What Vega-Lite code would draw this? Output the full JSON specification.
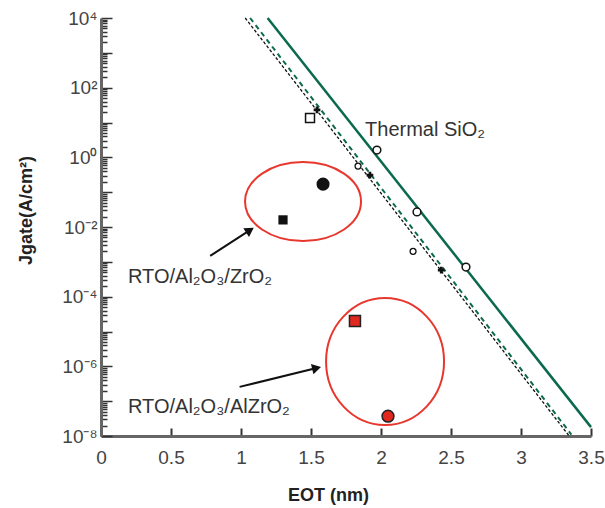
{
  "$schema": "https://vega.github.io/schema/vega-lite/v6.json",
  "autosize": {"type": "none"},
  "padding": {"left": 101, "top": 18, "right": 14, "bottom": 72},
  "width": 490,
  "height": 418,
  "background": "white",
  "config": {"view": {"stroke": null}, "font": "Liberation Sans"},
  "datasets": {
    "lines": [
      {"s": "solid", "eot": 1.19, "j": 10000},
      {"s": "solid", "eot": 3.5, "j": 1.8e-8},
      {"s": "bdash", "eot": 1.03, "j": 10000},
      {"s": "bdash", "eot": 3.34, "j": 1.05e-8},
      {"s": "gdash", "eot": 1.065, "j": 10000},
      {"s": "gdash", "eot": 3.36, "j": 1.1e-8}
    ],
    "points": [
      {"k": "thermal", "eot": 1.971, "j": 1.62},
      {"k": "thermal", "eot": 2.257, "j": 0.027},
      {"k": "thermal", "eot": 2.607, "j": 0.00071},
      {"k": "dopen", "eot": 1.836, "j": 0.56},
      {"k": "dopen", "eot": 2.229, "j": 0.002},
      {"k": "dfill", "eot": 1.921, "j": 0.31},
      {"k": "dfill", "eot": 2.43, "j": 0.00058},
      {"k": "dfill", "eot": 1.543, "j": 23},
      {"k": "dsq", "eot": 1.493, "j": 13.5},
      {"k": "bcircle", "eot": 1.586, "j": 0.17},
      {"k": "bsquare", "eot": 1.3, "j": 0.016},
      {"k": "rsquare", "eot": 1.814, "j": 2e-5},
      {"k": "rcircle", "eot": 2.05, "j": 3.7e-8}
    ],
    "ellipses": [
      {"e": "e1", "eot": 1.443, "j": 0.0537},
      {"e": "e2", "eot": 2.029, "j": 1.38e-6}
    ],
    "arrows": [
      {"a": "a1", "eot": 1.064, "j": 0.0081, "eot0": 0.78, "j0": 0.00148},
      {"a": "a2", "eot": 1.54, "j": 8.9e-7, "eot0": 0.99, "j0": 2.57e-7}
    ],
    "labels": [
      {"t": "Thermal SiO₂", "eot": 1.886, "j": 4.1},
      {"t": "RTO/Al₂O₃/ZrO₂", "eot": 0.193, "j": 0.000245},
      {"t": "RTO/Al₂O₃/AlZrO₂", "eot": 0.193, "j": 4.6e-8}
    ]
  },
  "encoding": {
    "x": {
      "field": "eot", "type": "quantitative",
      "scale": {"domain": [0, 3.5], "nice": false, "zero": false},
      "axis": {
        "values": [0, 0.5, 1, 1.5, 2, 2.5, 3, 3.5],
        "format": "~g",
        "grid": false,
        "labelFlush": false,
        "labelOverlap": false,
        "ticks": true,
        "tickSize": {"condition": {"test": "datum.value > 0", "value": -8}, "value": -8},
        "tickWidth": 2,
        "tickColor": "#333",
        "domainColor": "#666",
        "domainWidth": 3,
        "labelPadding": 20,
        "labelFontSize": 19,
        "labelColor": "#444",
        "labelFont": "Liberation Sans",
        "title": "EOT (nm)",
        "titleFont": "Liberation Sans",
        "titleFontSize": 18,
        "titleFontWeight": "bold",
        "titleColor": "#222",
        "titleX": 227,
        "titleY": 64,
        "titleBaseline": "alphabetic"
      }
    },
    "y": {
      "field": "j", "type": "quantitative",
      "scale": {"type": "log", "domain": [1e-8, 10000], "nice": false},
      "axis": {
        "values": [1e-8,2e-8,3e-8,4e-8,5e-8,6e-8,7e-8,8e-8,9e-8,1e-7,2e-7,3e-7,4e-7,5e-7,6e-7,7e-7,8e-7,9e-7,1e-6,2e-6,3e-6,4e-6,5e-6,6e-6,7e-6,8e-6,9e-6,1e-5,2e-5,3e-5,4e-5,5e-5,6e-5,7e-5,8e-5,9e-5,1e-4,2e-4,3e-4,4e-4,5e-4,6e-4,7e-4,8e-4,9e-4,1e-3,2e-3,3e-3,4e-3,5e-3,6e-3,7e-3,8e-3,9e-3,1e-2,2e-2,3e-2,4e-2,5e-2,6e-2,7e-2,8e-2,9e-2,0.1,0.2,0.3,0.4,0.5,0.6,0.7,0.8,0.9,1,2,3,4,5,6,7,8,9,10,20,30,40,50,60,70,80,90,100,200,300,400,500,600,700,800,900,1000,2000,3000,4000,5000,6000,7000,8000,9000,10000],
        "labelExpr": "abs(log(datum.value)/LN10 - round(log(datum.value)/LN10)) > 0.001 ? '' : round(log(datum.value)/LN10) == 4 ? '10⁴' : round(log(datum.value)/LN10) == 2 ? '10²' : round(log(datum.value)/LN10) == 0 ? '10⁰' : round(log(datum.value)/LN10) == -2 ? '10⁻²' : round(log(datum.value)/LN10) == -4 ? '10⁻⁴' : round(log(datum.value)/LN10) == -6 ? '10⁻⁶' : round(log(datum.value)/LN10) == -8 ? '10⁻⁸' : ''",
        "grid": false,
        "labelFlush": false,
        "labelOverlap": false,
        "ticks": true,
        "tickSize": {"condition": {"test": "abs(log(datum.value)/LN10 - round(log(datum.value)/LN10)) < 0.001", "value": -11}, "value": -6},
        "tickWidth": 1.5,
        "tickColor": "#333",
        "domainColor": "#666",
        "domainWidth": 3,
        "labelPadding": 15,
        "labelFontSize": 19,
        "labelColor": "#444",
        "labelFont": "Liberation Sans",
        "title": "Jgate(A/cm²)",
        "titleFont": "Liberation Sans",
        "titleFontSize": 18,
        "titleFontWeight": "bold",
        "titleColor": "#222",
        "titleX": -70,
        "titleY": 192,
        "titleAngle": -90,
        "titleBaseline": "alphabetic",
        "titleAlign": "center"
      }
    }
  },
  "layer": [
    {
      "data": {"name": "lines"},
      "transform": [{"filter": "datum.s == 'solid'"}],
      "mark": {"type": "line", "color": "#0b6a4e", "strokeWidth": 2.5},
      "encoding": {}
    },
    {
      "data": {"name": "lines"},
      "transform": [{"filter": "datum.s == 'gdash'"}],
      "mark": {"type": "line", "color": "#0b6a4e", "strokeWidth": 2, "strokeDash": [5, 4]},
      "encoding": {}
    },
    {
      "data": {"name": "lines"},
      "transform": [{"filter": "datum.s == 'bdash'"}],
      "mark": {"type": "line", "color": "#111", "strokeWidth": 1.3, "strokeDash": [3, 2]},
      "encoding": {}
    },
    {
      "data": {"name": "ellipses"},
      "transform": [{"filter": "datum.e == 'e1'"}],
      "mark": {"type": "point", "filled": false, "color": "#e8372c", "strokeWidth": 2, "size": 13456, "opacity": 1,
        "shape": "M -1 0 C -1 -0.376 -0.552 -0.681 0 -0.681 C 0.552 -0.681 1 -0.376 1 0 C 1 0.376 0.552 0.681 0 0.681 C -0.552 0.681 -1 0.376 -1 0 Z"}
    },
    {
      "data": {"name": "ellipses"},
      "transform": [{"filter": "datum.e == 'e2'"}],
      "mark": {"type": "point", "filled": false, "color": "#e8372c", "strokeWidth": 2, "size": 16129, "opacity": 1,
        "shape": "M -0.929 0 C -0.929 -0.552 -0.513 -1 0 -1 C 0.513 -1 0.929 -0.552 0.929 0 C 0.929 0.552 0.513 1 0 1 C -0.513 1 -0.929 0.552 -0.929 0 Z"}
    },
    {
      "data": {"name": "arrows"},
      "mark": {"type": "rule", "color": "#111", "strokeWidth": 2},
      "encoding": {"x2": {"field": "eot0"}, "y2": {"field": "j0"}}
    },
    {
      "data": {"name": "arrows"},
      "transform": [{"filter": "datum.a == 'a1'"}],
      "mark": {"type": "point", "shape": "triangle-right", "filled": true, "color": "#111", "size": 110, "angle": -33, "opacity": 1}
    },
    {
      "data": {"name": "arrows"},
      "transform": [{"filter": "datum.a == 'a2'"}],
      "mark": {"type": "point", "shape": "triangle-right", "filled": true, "color": "#111", "size": 110, "angle": -14, "opacity": 1}
    },
    {
      "data": {"name": "points"},
      "transform": [{"filter": "datum.k == 'thermal'"}],
      "mark": {"type": "point", "shape": "circle", "filled": true, "fill": "white", "stroke": "#111", "strokeWidth": 1.5, "size": 60, "opacity": 1}
    },
    {
      "data": {"name": "points"},
      "transform": [{"filter": "datum.k == 'dopen'"}],
      "mark": {"type": "point", "shape": "circle", "filled": true, "fill": "white", "stroke": "#111", "strokeWidth": 1.3, "size": 35, "opacity": 1}
    },
    {
      "data": {"name": "points"},
      "transform": [{"filter": "datum.k == 'dfill'"}],
      "mark": {"type": "point", "shape": "cross", "filled": true, "color": "#111", "size": 45, "opacity": 1}
    },
    {
      "data": {"name": "points"},
      "transform": [{"filter": "datum.k == 'dsq'"}],
      "mark": {"type": "point", "shape": "square", "filled": true, "fill": "white", "stroke": "#111", "strokeWidth": 1.5, "size": 80, "opacity": 1}
    },
    {
      "data": {"name": "points"},
      "transform": [{"filter": "datum.k == 'bcircle'"}],
      "mark": {"type": "point", "shape": "circle", "filled": true, "color": "#111", "size": 170, "opacity": 1}
    },
    {
      "data": {"name": "points"},
      "transform": [{"filter": "datum.k == 'bsquare'"}],
      "mark": {"type": "point", "shape": "square", "filled": true, "color": "#111", "size": 85, "opacity": 1}
    },
    {
      "data": {"name": "points"},
      "transform": [{"filter": "datum.k == 'rsquare'"}],
      "mark": {"type": "point", "shape": "square", "filled": true, "fill": "#e0281f", "stroke": "#222", "strokeWidth": 1.5, "size": 121, "opacity": 1}
    },
    {
      "data": {"name": "points"},
      "transform": [{"filter": "datum.k == 'rcircle'"}],
      "mark": {"type": "point", "shape": "circle", "filled": true, "fill": "#e0281f", "stroke": "#222", "strokeWidth": 1.5, "size": 140, "opacity": 1}
    },
    {
      "data": {"name": "labels"},
      "mark": {"type": "text", "align": "left", "baseline": "alphabetic", "font": "Liberation Sans", "fontSize": 20, "color": "#333"},
      "encoding": {"text": {"field": "t"}}
    }
  ]
}
